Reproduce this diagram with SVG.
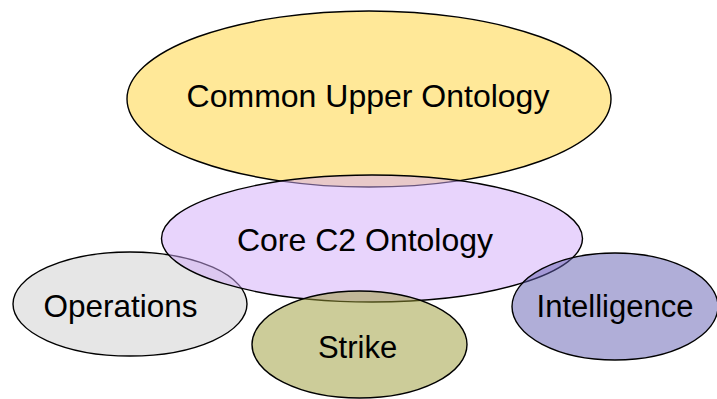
<svg xmlns="http://www.w3.org/2000/svg" width="717" height="399" viewBox="0 0 717 399">
<style>
  .e { stroke: #000; stroke-width: 1.4; }
  .t { font-family: "Liberation Sans", Arial, sans-serif; fill: #000; text-anchor: middle; }
</style>
<rect width="717" height="399" fill="#fff"/>
<g id="common-upper-ontology">
  <ellipse class="e" cx="369" cy="99" rx="242" ry="88" fill="#FFE898"/>
  <text class="t" x="368" y="107" font-size="32">Common Upper Ontology</text>
</g>
<g id="operations">
  <ellipse class="e" cx="130" cy="304" rx="117" ry="52" fill="#E6E6E6"/>
  <text class="t" x="120.5" y="317" font-size="31.5">Operations</text>
</g>
<g id="core-c2-ontology">
  <ellipse class="e" cx="372" cy="238.5" rx="210.5" ry="63.5" fill="rgb(209,169,249)" fill-opacity="0.5"/>
  <text class="t" x="365" y="251" font-size="32">Core C2 Ontology</text>
</g>
<g id="strike">
  <ellipse class="e" cx="359.5" cy="344.5" rx="107.5" ry="53.5" fill="rgb(153,153,51)" fill-opacity="0.5"/>
  <text class="t" x="357.5" y="358" font-size="31">Strike</text>
</g>
<g id="intelligence">
  <ellipse class="e" cx="615" cy="306.5" rx="103" ry="53.5" fill="rgb(97,93,177)" fill-opacity="0.5"/>
  <text class="t" x="615" y="317" font-size="31">Intelligence</text>
</g>
<g id="connectors"></g>
</svg>
